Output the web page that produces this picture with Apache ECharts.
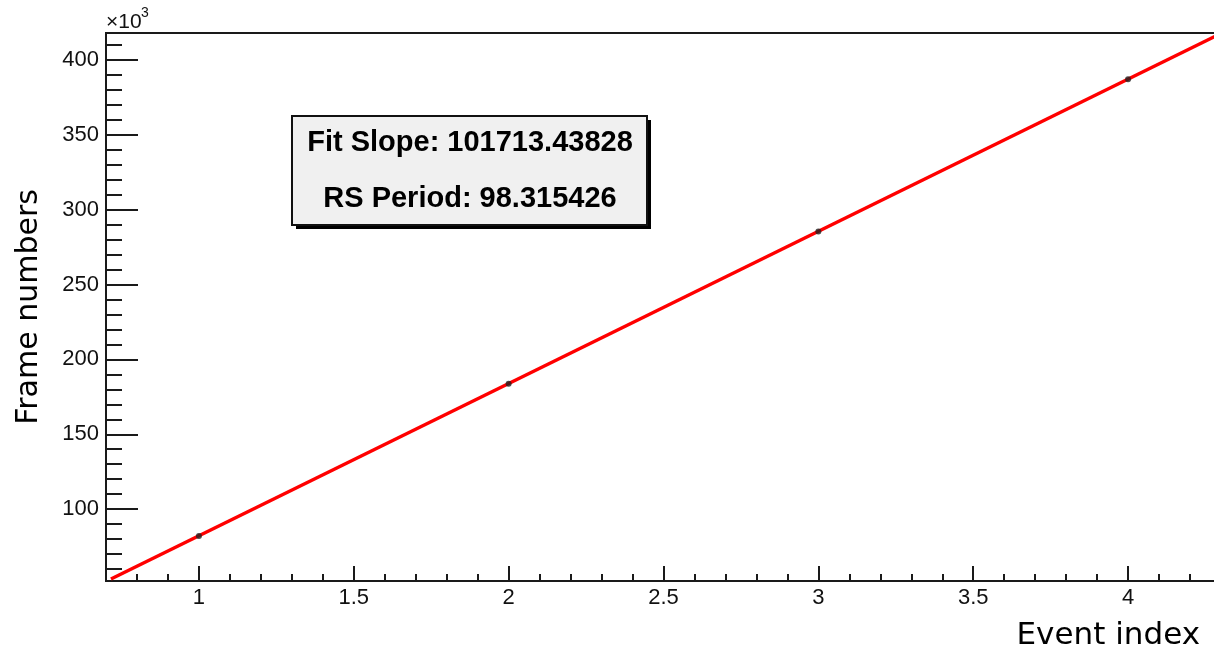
<!DOCTYPE html>
<html>
<head>
<meta charset="utf-8">
<script src="https://cdn.jsdelivr.net/npm/echarts@6/dist/echarts.min.js"></script>
<style>
html,body{margin:0;padding:0;background:#fff;}
#chart{width:1214px;height:654px;}
</style>
</head>
<body>
<div id="chart"></div>
<script>
// ---- data ----
const eventIndex = [1, 2, 3, 4];
const frameNumbers = [82000, 183700, 285400, 387100];
const fitLineX = [0.716, 4.3];
const fitLineY = [53300, 417700];
const xMajorTicks = [1, 1.5, 2, 2.5, 3, 3.5, 4];
const yMajorTicks = [100000, 150000, 200000, 250000, 300000, 350000, 400000];
const xMinorTicks = [];
for (let i = 8; i <= 42; i++) { if (i % 5 !== 0) xMinorTicks.push(i / 10); }
const yMinorTicks = [];
for (let v = 60000; v <= 410000; v += 10000) { if (v % 50000 !== 0) yMinorTicks.push(v); }
const xRange = [0.7, 4.3];
const yRange = [52000, 418000];
const boxLines = ['Fit Slope: 101713.43828', 'RS Period: 98.315426'];
const xTitle = 'Event index';
const yTitle = 'Frame numbers';

const chart = echarts.init(document.getElementById('chart'), null, {renderer: 'canvas'});
const axisColor = '#1a1a1a';
const labelFont = '"Liberation Sans", Arial, Helvetica, sans-serif';
const titleFont = '"DejaVu Sans", Verdana, sans-serif';

const option = {
  animation: false,
  backgroundColor: '#fff',
  grid: {
    left: 106, top: 33, width: 1115, height: 548,
    outerBoundsMode: 'none', containLabel: false,
    show: true, borderColor: axisColor, borderWidth: 2, backgroundColor: 'transparent'
  },
  xAxis: [
    {
      type: 'value', min: xRange[0], max: xRange[1],
      position: 'bottom',
      axisLine: {show: true, onZero: false, lineStyle: {color: axisColor, width: 2}},
      axisTick: {show: true, inside: true, length: 15, customValues: xMajorTicks, lineStyle: {color: axisColor, width: 2}},
      axisLabel: {show: true, customValues: xMajorTicks, margin: 6, fontFamily: labelFont, fontSize: 22, color: '#111',
        formatter: v => String(v)},
      splitLine: {show: false},
      name: xTitle, nameLocation: 'end', nameGap: -21,
      nameTextStyle: {fontFamily: titleFont, fontSize: 31, color: '#000', align: 'right', verticalAlign: 'top', padding: [39, 0, 0, 0]}
    },
    {
      type: 'value', min: xRange[0], max: xRange[1],
      position: 'bottom',
      axisLine: {show: false, onZero: false},
      axisTick: {show: true, inside: true, length: 7, customValues: xMinorTicks, lineStyle: {color: axisColor, width: 2}},
      axisLabel: {show: false},
      splitLine: {show: false}
    }
  ],
  yAxis: [
    {
      type: 'value', min: yRange[0], max: yRange[1],
      position: 'left',
      axisLine: {show: true, onZero: false, lineStyle: {color: axisColor, width: 2}},
      axisTick: {show: true, inside: true, length: 32, customValues: yMajorTicks, lineStyle: {color: axisColor, width: 2}},
      axisLabel: {show: true, customValues: yMajorTicks, margin: 7, fontFamily: labelFont, fontSize: 22, color: '#111',
        formatter: v => String(Math.round(v / 1000))},
      splitLine: {show: false},
      name: yTitle, nameLocation: 'middle', nameGap: 62, nameRotate: 90,
      nameTextStyle: {fontFamily: titleFont, fontSize: 30, color: '#000'}
    },
    {
      type: 'value', min: yRange[0], max: yRange[1],
      position: 'left',
      axisLine: {show: false, onZero: false},
      axisTick: {show: true, inside: true, length: 16, customValues: yMinorTicks, lineStyle: {color: axisColor, width: 2}},
      axisLabel: {show: false},
      splitLine: {show: false}
    }
  ],
  series: [
    {
      name: 'fit', type: 'line', xAxisIndex: 0, yAxisIndex: 0,
      data: fitLineX.map((x, i) => [x, fitLineY[i]]),
      symbol: 'none', clip: true,
      lineStyle: {color: '#ff0000', width: 3.5}, z: 2
    },
    {
      name: 'events', type: 'scatter', xAxisIndex: 0, yAxisIndex: 0,
      data: eventIndex.map((x, i) => [x, frameNumbers[i]]),
      symbol: 'circle', symbolSize: 6,
      itemStyle: {color: '#222'}, z: 3
    }
  ],
  graphic: [
    {type: 'text', left: 106, top: 12, style: {text: '×10', font: '21px ' + labelFont, fill: '#111'}, z: 10},
    {type: 'text', left: 141, top: 6, style: {text: '3', font: '14px ' + labelFont, fill: '#111'}, z: 10},
    {type: 'rect', shape: {x: 296, y: 120, width: 355, height: 109}, style: {fill: '#000'}, z: 10},
    {type: 'rect', shape: {x: 292, y: 116, width: 355, height: 109}, style: {fill: '#f0f0f0', stroke: '#111', lineWidth: 2}, z: 11},
    {type: 'text', x: 470, y: 143, style: {text: boxLines[0], font: 'bold 29px ' + labelFont, fill: '#000', align: 'center', verticalAlign: 'middle'}, z: 12},
    {type: 'text', x: 470, y: 199, style: {text: boxLines[1], font: 'bold 29px ' + labelFont, fill: '#000', align: 'center', verticalAlign: 'middle'}, z: 12}
  ]
};
chart.setOption(option);
</script>
</body>
</html>
